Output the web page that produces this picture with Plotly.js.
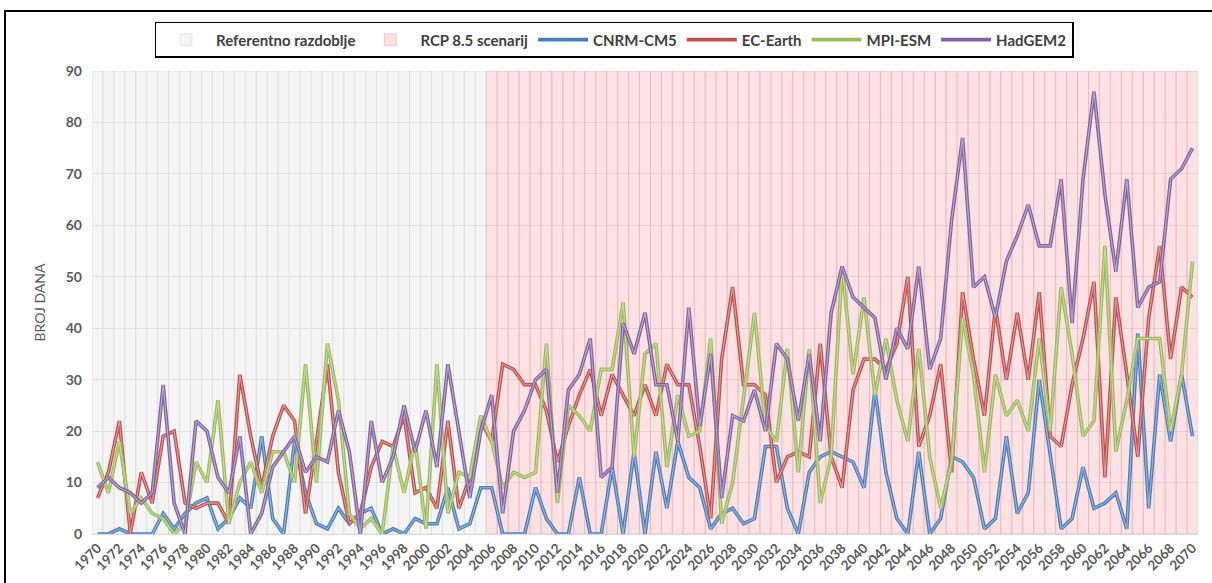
<!DOCTYPE html>
<html><head><meta charset="utf-8">
<script src="https://cdn.plot.ly/plotly-3.0.1.min.js"></script>
<style>
html,body{margin:0;padding:0;overflow:hidden;background:#fff}
#chart{width:1212px;height:583px}
#frame{position:absolute;left:4px;top:10px;width:1300px;height:700px;border:2px solid #000;pointer-events:none}
</style></head><body>
<div id="chart"></div><div id="frame"></div>
<script>
const years = [1970,1971,1972,1973,1974,1975,1976,1977,1978,1979,
1980,1981,1982,1983,1984,1985,1986,1987,1988,1989,
1990,1991,1992,1993,1994,1995,1996,1997,1998,1999,
2000,2001,2002,2003,2004,2005,2006,2007,2008,2009,
2010,2011,2012,2013,2014,2015,2016,2017,2018,2019,
2020,2021,2022,2023,2024,2025,2026,2027,2028,2029,
2030,2031,2032,2033,2034,2035,2036,2037,2038,2039,
2040,2041,2042,2043,2044,2045,2046,2047,2048,2049,
2050,2051,2052,2053,2054,2055,2056,2057,2058,2059,
2060,2061,2062,2063,2064,2065,2066,2067,2068,2069,
2070];
const referenceYears = years.filter(y => y <= 2005);
const scenarioYears = years.filter(y => y >= 2006);
const shadeTop = 90;
const tickYears = years.filter((y, i) => i % 2 === 0);

const cnrm = [0,0,1,0,0,0,4,1,4,6,
7,1,3,7,5,19,3,0,18,8,
2,1,5,2,4,5,0,1,0,3,
2,2,9,1,2,9,9,0,0,0,
9,3,0,0,11,0,0,13,0,16,
0,16,5,18,11,9,1,4,5,2,
3,17,17,5,0,12,15,16,15,14,
9,28,12,3,0,16,0,3,15,14,
11,1,3,19,4,8,30,15,1,3,
13,5,6,8,1,39,5,31,18,31,
19];
const ecEarth = [7,12,22,0,12,6,19,20,6,5,
6,6,2,31,19,9,19,25,22,4,
18,33,12,2,4,13,18,17,23,8,
9,5,22,5,11,22,18,33,32,29,
29,24,14,21,27,32,23,31,27,23,
29,23,33,29,29,17,3,34,48,29,
29,27,10,15,16,15,37,15,9,28,
34,34,32,37,50,17,23,33,12,47,
34,23,44,30,43,30,47,19,17,29,
38,49,11,46,31,15,42,56,34,48,
46];
const mpiEsm = [14,8,18,4,7,4,3,0,2,14,
10,26,2,10,14,8,16,16,10,33,
10,37,26,4,1,3,0,17,8,18,
1,33,4,12,11,23,18,9,12,11,
12,37,6,25,23,20,32,32,45,15,
35,37,13,27,19,20,38,2,10,27,
43,21,18,36,12,36,6,15,52,31,
46,27,38,26,18,36,15,5,14,42,
31,12,31,23,26,20,38,20,48,35,
19,22,56,16,26,38,38,38,20,31,
53];
const hadGem = [9,11,9,8,6,8,29,6,0,22,
20,11,8,19,0,4,13,16,19,12,
15,14,24,16,0,22,10,15,25,16,
24,13,33,20,7,20,27,4,20,24,
30,32,8,28,31,38,11,13,41,35,
43,29,29,18,44,21,35,7,23,22,
28,20,37,34,22,35,18,43,52,46,
44,42,30,40,36,52,32,38,61,77,
48,50,42,53,58,64,56,56,69,41,
69,86,66,51,69,44,48,49,69,71,
75];

const seriesNames = ['CNRM-CM5','EC-Earth','MPI-ESM','HadGEM2'];
const seriesData = [cnrm, ecEarth, mpiEsm, hadGem];
const seriesColors = ['#4a7ebb','#c0504d','#9bbb59','#8064a2'];

const FONT = 'Lato, "Open Sans", "Liberation Sans", sans-serif';

const traces = [
  {type:'bar', name:'Referentno razdoblje', x:referenceYears, y:referenceYears.map(() => shadeTop),
   width:1, marker:{color:'rgba(235,235,235,0.5)', line:{color:'rgba(215,215,215,0.5)', width:1}},
   hoverinfo:'skip'},
  {type:'bar', name:'RCP 8.5 scenarij', x:scenarioYears, y:scenarioYears.map(() => shadeTop),
   width:1, marker:{color:'rgba(251,195,200,0.5)', line:{color:'rgba(225,165,172,0.45)', width:1}},
   hoverinfo:'skip'}
];
seriesNames.forEach((nm, k) => {
  traces.push({type:'scatter', mode:'lines', name:nm, x:years, y:seriesData[k],
    line:{color:seriesColors[k], width:3.6}});
  traces.push({type:'scatter', mode:'lines', name:nm, x:years, y:seriesData[k], showlegend:false,
    hoverinfo:'skip', line:{color:'rgba(255,255,255,0.45)', width:1.1}});
});

const layout = {
  width:1212, height:583,
  margin:{l:92, r:14, t:71, b:49},
  paper_bgcolor:'#ffffff', plot_bgcolor:'#ffffff',
  font:{family:FONT, color:'#595959'},
  bargap:0,
  showlegend:true,
  legend:{orientation:'h', x:0.472, xanchor:'center', y:1.106, yanchor:'top',
    bordercolor:'#000000', borderwidth:1.5, bgcolor:'#ffffff', itemwidth:50,
    font:{family:FONT, size:15, color:'#404040', weight:'bold'}, traceorder:'normal'},
  xaxis:{range:[1969.5,2070.5], tickmode:'array', tickvals:tickYears, ticktext:tickYears.map(String),
    tickangle:-45, showgrid:false, zeroline:false, showline:true, linecolor:'#d9d9d9', ticks:'',
    tickfont:{family:FONT, size:13.5, color:'#595959', weight:'bold'}},
  yaxis:{range:[0,90], tick0:0, dtick:10, showgrid:true, gridcolor:'#d9d9d9', zeroline:false,
    showline:false, ticks:'', ticklabelstandoff:9,
    tickfont:{family:FONT, size:14, color:'#595959', weight:'bold'},
    title:{text:'BROJ DANA', font:{family:FONT, size:14, color:'#595959'}, standoff:16}}
};

Plotly.newPlot('chart', traces, layout, {displayModeBar:false, staticPlot:true});
</script>
</body></html>
